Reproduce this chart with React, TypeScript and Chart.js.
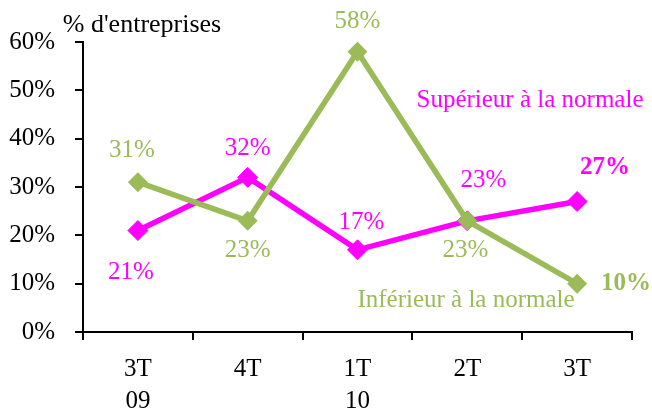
import React, { useEffect, useRef } from "react";
import { Chart, registerables } from "chart.js";

Chart.register(...registerables);

const categories: (string | string[])[] = [["3T", "09"], "4T", ["1T", "10"], "2T", "3T"];
const superieur = [21, 32, 17, 23, 27];
const inferieur = [31, 23, 58, 23, 10];
const yTicks = [0, 10, 20, 30, 40, 50, 60];

const MAGENTA = "#FF00FF";
const GREEN = "#9BBB59";
const FONT = "'Liberation Serif', 'Times New Roman', serif";

// label offsets (pixels) relative to each point
const supOffsets = [[-7, 42], [0, -29], [4, -27], [16, -40], [28, -34]];
const infOffsets = [[-6, -32], [0, 30], [0, -30], [-2, 30], [49, 0]];
const supBold = [false, false, false, false, true];
const infBold = [false, false, false, false, true];

const labelsPlugin = {
  id: "pointLabels",
  afterDatasetsDraw(chart: any) {
    const ctx = chart.ctx;
    ctx.save();
    ctx.textAlign = "center";
    ctx.textBaseline = "middle";
    const sets = [
      { idx: 1, values: superieur, off: supOffsets, bold: supBold, color: MAGENTA },
      { idx: 0, values: inferieur, off: infOffsets, bold: infBold, color: GREEN },
    ];
    for (const s of sets) {
      const meta = chart.getDatasetMeta(s.idx);
      meta.data.forEach((pt: any, i: number) => {
        ctx.font = `${s.bold[i] ? "bold " : ""}25px ${FONT}`;
        ctx.fillStyle = s.color;
        ctx.fillText(`${s.values[i]}%`, pt.x + s.off[i][0], pt.y + s.off[i][1]);
      });
    }
    // series names
    ctx.font = `25px ${FONT}`;
    ctx.fillStyle = MAGENTA;
    ctx.fillText("Supérieur à la normale", 530, 100);
    ctx.fillStyle = GREEN;
    ctx.fillText("Inférieur à la normale", 466, 300);
    // axis title
    ctx.font = `26px ${FONT}`;
    ctx.fillStyle = "#000";
    ctx.fillText("% d'entreprises", 142, 25);
    ctx.restore();
  },
};

export default function App() {
  const ref = useRef<HTMLCanvasElement>(null);
  useEffect(() => {
    document.body.style.margin = "0";
    const chart = new Chart(ref.current!, {
      type: "line",
      data: {
        labels: categories,
        datasets: [
          {
            label: "Inférieur à la normale",
            data: inferieur,
            borderColor: GREEN,
            backgroundColor: GREEN,
            borderWidth: 5.5,
            pointStyle: "rectRot",
            pointRadius: 10,
            pointBorderWidth: 0,
            tension: 0,
          },
          {
            label: "Supérieur à la normale",
            data: superieur,
            borderColor: MAGENTA,
            backgroundColor: MAGENTA,
            borderWidth: 5.5,
            pointStyle: "rectRot",
            pointRadius: 10,
            pointBorderWidth: 1,
            pointBorderColor: MAGENTA,
            tension: 0,
          },
        ],
      },
      options: {
        animation: false,
        responsive: false,
        maintainAspectRatio: false,
        layout: { padding: { top: 42, right: 20, left: 0, bottom: 0 } },
        plugins: { legend: { display: false }, tooltip: { enabled: false } },
        scales: {
          x: {
            offset: true,
            grid: {
              offset: true,
              drawOnChartArea: false,
              color: "#000",
              lineWidth: 2,
              tickLength: 8,
            },
            border: { color: "#000", width: 2 },
            ticks: {
              color: "#000",
              font: { family: FONT, size: 25, lineHeight: 1.28 },
              padding: 13,
              maxRotation: 0,
              autoSkip: false,
            },
            afterFit: (s: any) => {
              s.height = 82;
            },
          },
          y: {
            min: 0,
            max: 60,
            afterBuildTicks: (s: any) => {
              s.ticks = yTicks.map((v) => ({ value: v }));
            },
            grid: {
              drawOnChartArea: false,
              color: "#000",
              lineWidth: 2,
              tickLength: 8,
            },
            border: { color: "#000", width: 2 },
            ticks: {
              color: "#000",
              font: { family: FONT, size: 25 },
              padding: 20,
              callback: (v: any) => `${v}%`,
            },
            afterFit: (s: any) => {
              s.width = 83;
            },
          },
        },
      },
      plugins: [labelsPlugin],
    });
    return () => chart.destroy();
  }, []);
  return (
    <div style={{ width: 652, height: 414, position: "relative", background: "#fff" }}>
      <canvas ref={ref} width={652} height={414} />
    </div>
  );
}
